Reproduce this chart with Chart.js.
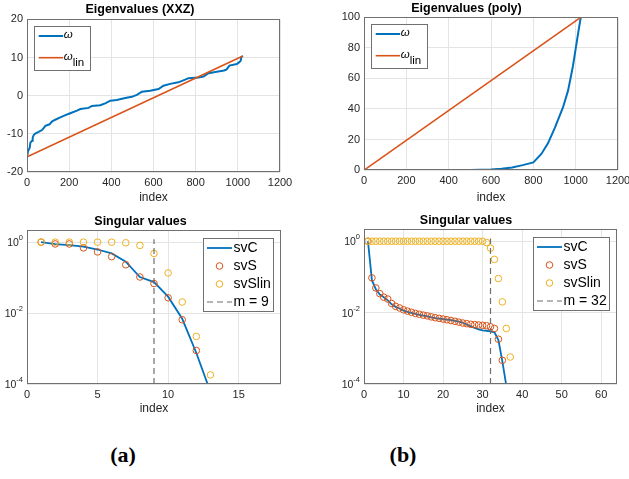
<!DOCTYPE html>
<html>
<head>
<meta charset="utf-8">
<script src="https://cdn.jsdelivr.net/npm/chart.js@4.4.1/dist/chart.umd.min.js"></script>
<style>
  body { margin:0; background:#fff; }
  #fig { position:relative; width:629px; height:479px; overflow:hidden; background:#fff; }
  canvas { position:absolute; }
  .tag { position:absolute; font:bold 22px "Liberation Serif", "Times New Roman", serif; line-height:22px; transform:translateX(-50%); }
</style>
</head>
<body>
<div id="fig">
  <canvas id="cA" width="315" height="210" style="left:0;top:0"></canvas>
  <canvas id="cB" width="314" height="210" style="left:315px;top:0"></canvas>
  <canvas id="cC" width="315" height="215" style="left:0;top:210px"></canvas>
  <canvas id="cD" width="314" height="215" style="left:315px;top:210px"></canvas>
  <div class="tag" style="left:123px;top:444px">(a)</div>
  <div class="tag" style="left:403px;top:444px">(b)</div>
</div>
<script>
// data

// (a) top: XXZ eigenvalues
const xxzIndex = [1, 5, 13, 16, 24, 27, 32, 39, 55, 71, 79, 87, 107, 118, 134, 158, 182, 205, 237, 253,
  292, 308, 347, 371, 395, 426, 466, 497, 521, 545, 584, 624, 647, 679, 718, 750, 766, 813, 837, 861,
  900, 935, 947, 960, 995, 1007, 1014, 1016, 1024];
const xxzOmega = [-15.8, -14.5, -13.6, -12.3, -11.8, -11.0, -10.3, -9.9, -9.5, -9.0, -8.5, -7.9, -7.5, -6.8, -6.3, -5.7, -5.1, -4.6, -3.9, -3.5,
  -3.2, -2.7, -2.5, -2.0, -1.3, -1.1, -0.6, -0.3, 0.2, 1.05, 1.3, 1.75, 2.6, 3.1, 3.5, 4.2, 4.6, 4.8, 5.0, 5.9,
  6.3, 6.6, 6.9, 7.9, 8.3, 8.8, 9.2, 10.1, 10.4];
const xxzLinIndex = [1, 1024];
const xxzLin = [-16, 10.4];

// (b) top: poly eigenvalues
const polyIndex = [1, 200, 400, 500, 600, 650, 700, 750, 800, 838, 869, 901, 940, 964, 987, 1011, 1024];
const polyOmega = [0, 0, 0.01, 0.06, 0.35, 0.8, 1.7, 3.2, 5, 10.5, 17.5, 27.5, 41, 52, 68, 89, 100];
const polyLinIndex = [1, 1024];
const polyLin = [0, 100];

// (a) bottom: singular values
const svIdxA = [1, 2, 3, 4, 5, 6, 7, 8, 9, 10, 11, 12, 13];
const svCA = [1.0, 0.88, 0.82, 0.75, 0.62, 0.48, 0.28, 0.104, 0.075, 0.029, 0.0069, 0.00075, 0.00006];
const svSA = [1.0, 0.89, 0.89, 0.69, 0.53, 0.39, 0.23, 0.104, 0.068, 0.027, 0.0065, 0.00088];
const svSlinA = [1.0, 1.0, 1.0, 1.0, 1.0, 1.0, 0.96, 0.81, 0.48, 0.135, 0.0205, 0.0022, 0.00018];
const mA = 9;

// (b) bottom: singular values
const svIdxB = [1, 2, 3, 4, 5, 6, 7, 8, 9, 10, 11, 12, 13, 14, 15, 16, 17, 18, 19, 20,
  21, 22, 23, 24, 25, 26, 27, 28, 29, 30, 31, 32, 33, 34, 35, 36, 37];
const svCB = [1.0, 0.081, 0.045, 0.032, 0.027, 0.022, 0.017, 0.0145, 0.013, 0.0114,
  0.0105, 0.0098, 0.0092, 0.0087, 0.0082, 0.0078, 0.0074, 0.0070, 0.0068, 0.0066,
  0.0064, 0.0062, 0.0059, 0.0056, 0.0052, 0.0046, 0.0041, 0.0037, 0.0034, 0.0032,
  0.0031, 0.0030, 0.0028, 0.0017, 0.00043, 0.00009, 0.00001];
const svSB = [1.0, 0.094, 0.049, 0.034, 0.027, 0.024, 0.018, 0.015, 0.0135, 0.012,
  0.011, 0.0102, 0.0095, 0.0090, 0.0085, 0.0081, 0.0076, 0.0072, 0.0069, 0.0066,
  0.0063, 0.0060, 0.0057, 0.0054, 0.0051, 0.0049, 0.0047, 0.0046, 0.0045, 0.0044,
  0.0043, 0.0040, 0.0036, 0.0018, 0.00046];
const svSlinB = [1.0, 1.0, 1.0, 1.0, 1.0, 1.0, 1.0, 1.0, 1.0, 1.0,
  1.0, 1.0, 1.0, 1.0, 1.0, 1.0, 1.0, 1.0, 1.0, 1.0,
  1.0, 1.0, 1.0, 1.0, 1.0, 1.0, 1.0, 1.0, 1.0, 1.0,
  0.92, 0.64, 0.31, 0.09, 0.02, 0.0036, 0.00057];
const mB = 32;
const mLineY = [1e-4, 1.2];

// ticks
const eigXTicks = [0, 200, 400, 600, 800, 1000, 1200];
const xxzYTicks = [-20, -10, 0, 10, 20];
const polyYTicks = [0, 20, 40, 60, 80, 100];
const svXTicksA = [0, 5, 10, 15];
const svXTicksB = [0, 10, 20, 30, 40, 50, 60];
const svYExp = [0, -2, -4];

// style
const FONT = '"Liberation Sans", Arial, sans-serif';
const BLUE = '#0072BD', ORANGE = '#D95319', YELLOW = '#EDB120', DASH = '#6e6e6e';
const GRID = '#e4e4e4', AXIS = '#707070', TICK = '#262626';

const pts = (xs, ys) => ys.map((y, i) => ({ x: xs[i], y }));

function lineSet(label, xs, ys, color, width, order, extra) {
  return Object.assign({ label, data: pts(xs, ys), borderColor: color, borderWidth: width,
    pointRadius: 0, tension: 0, fill: false, order }, extra || {});
}
function circleSet(label, xs, ys, color, order) {
  return { label, data: pts(xs, ys), showLine: false, borderColor: color, order,
    pointStyle: 'circle', pointRadius: 3.3, pointBorderWidth: 1,
    pointBorderColor: color, pointBackgroundColor: 'rgba(0,0,0,0)' };
}

// frame, log tick labels and boxed legend
const frameLegend = {
  id: 'frameLegend',
  afterDatasetsDraw(chart, args, o) {
    const { ctx, chartArea: a } = chart;
    ctx.save();
    ctx.strokeStyle = AXIS; ctx.lineWidth = 1;
    ctx.strokeRect(Math.round(a.left) + 0.5, Math.round(a.top) + 0.5,
      Math.round(a.right - a.left) - 1, Math.round(a.bottom - a.top) - 1);

    if (o.logExp) {
      const ys = chart.scales.y;
      o.logExp.forEach(e => {
        const y = ys.getPixelForValue(Math.pow(10, e));
        const ex = String(e);
        ctx.fillStyle = TICK;
        ctx.textBaseline = 'middle';
        ctx.textAlign = 'right';
        ctx.font = '7.5px ' + FONT;
        const right = a.left - 4;
        const ew = ctx.measureText(ex).width;
        ctx.fillText(ex, right, y - 4);
        ctx.font = '10.5px ' + FONT;
        ctx.fillText('10', right - ew, y + 1);
      });
    }

    // legend
    const items = chart.data.datasets;
    let tw = 0;
    items.forEach(d => {
      const [main, sub] = d.label.split('_');
      ctx.font = o.mainFont;
      let w = ctx.measureText(main).width;
      if (sub) { ctx.font = o.subFont; w += ctx.measureText(sub).width; }
      tw = Math.max(tw, w);
    });
    const w = Math.round(o.padL + o.sample + o.gap + tw + o.padR);
    const h = Math.round(o.padT + (items.length - 1) * o.rowH + o.padB);
    const x0 = Math.round(o.corner === 'tl' ? a.left + o.inset : a.right - o.inset - w);
    const y0 = Math.round(a.top + o.inset);
    ctx.fillStyle = '#fff';
    ctx.fillRect(x0, y0, w, h);
    ctx.strokeStyle = AXIS;
    ctx.strokeRect(x0 + 0.5, y0 + 0.5, w, h);
    ctx.textAlign = 'left';
    ctx.textBaseline = 'middle';
    items.forEach((d, i) => {
      const y = y0 + o.padT + i * o.rowH;
      const sx = x0 + o.padL;
      ctx.beginPath();
      if (d.showLine === false) {
        ctx.arc(sx + o.sample / 2, y, d.pointRadius, 0, 2 * Math.PI);
        ctx.strokeStyle = d.pointBorderColor; ctx.lineWidth = 1;
        ctx.stroke();
      } else {
        ctx.setLineDash(d.borderDash || []);
        ctx.moveTo(sx, y); ctx.lineTo(sx + o.sample, y);
        ctx.strokeStyle = d.borderColor; ctx.lineWidth = d.borderWidth;
        ctx.stroke();
        ctx.setLineDash([]);
      }
      const [main, sub] = d.label.split('_');
      let tx = sx + o.sample + o.gap;
      ctx.fillStyle = '#000';
      ctx.font = o.mainFont;
      ctx.fillText(main, tx, y + o.mainDy);
      if (sub) {
        tx += ctx.measureText(main).width;
        ctx.font = o.subFont;
        ctx.fillText(sub, tx, y + o.subDy);
      }
    });
    ctx.restore();
  }
};

const topLegend = { corner: 'tl', inset: 7, padL: 4.7, sample: 24.5, gap: 0.5, padR: 6, padT: 10, rowH: 21.7, padB: 12,
  mainFont: 'italic 11.5px ' + FONT, subFont: '11.5px ' + FONT, mainDy: -1, subDy: 5 };
const svLegend = { corner: 'tr', inset: 8, padL: 4, sample: 25, gap: 1.5, padR: 2.5, padT: 10, rowH: 18, padB: 9,
  mainFont: '14px ' + FONT, subFont: '14px ' + FONT, mainDy: 0.5, subDy: 5 };

function makeChart(id, c) {
  return new Chart(document.getElementById(id), {
    type: 'line',
    data: { datasets: c.datasets },
    options: {
      responsive: false, animation: false, devicePixelRatio: 1,
      layout: { padding: c.pad },
      plugins: {
        legend: { display: false },
        tooltip: { enabled: false },
        title: { display: true, text: c.title, color: '#000',
          font: { family: FONT, size: 12.5, weight: 'bold' }, padding: c.titlePad },
        frameLegend: Object.assign({ logExp: c.logExp }, c.legend)
      },
      scales: {
        x: {
          type: 'linear', min: c.xMin, max: c.xMax,
          afterBuildTicks: s => { s.ticks = c.xTicks.map(v => ({ value: v })); },
          afterFit: s => { s.height = c.xH; s.paddingLeft = 0; s.paddingRight = 0; },
          grid: { color: GRID, drawTicks: false },
          border: { display: false },
          ticks: { color: TICK, font: { family: FONT, size: 11 }, padding: 4, maxRotation: 0, autoSkip: false,
            callback: v => String(v) },
          title: { display: true, text: 'index', color: TICK, font: { family: FONT, size: 12 },
            padding: { top: 0, bottom: c.xTitlePad } }
        },
        y: {
          type: c.yType, min: c.yMin, max: c.yMax,
          afterBuildTicks: s => { s.ticks = c.yTicks.map(v => ({ value: v })); },
          afterFit: s => { s.width = c.yW; s.paddingTop = 0; s.paddingBottom = 0; },
          grid: { color: GRID, drawTicks: false },
          border: { display: false },
          ticks: { display: c.yType === 'linear', color: TICK, font: { family: FONT, size: 11 }, padding: 4,
            callback: v => String(v) }
        }
      }
    },
    plugins: [frameLegend]
  });
}

makeChart('cA', {
  title: 'Eigenvalues (XXZ)', titlePad: { top: 2, bottom: 2.4 },
  pad: { left: 0, right: 35, top: 0, bottom: 2 },
  xMin: 0, xMax: 1200, xTicks: eigXTicks, xH: 36, xTitlePad: 3,
  yType: 'linear', yMin: -20, yMax: 20, yTicks: xxzYTicks, yW: 27,
  legend: topLegend,
  datasets: [
    lineSet('ω', xxzIndex, xxzOmega, BLUE, 2, 1),
    lineSet('ω_lin', xxzLinIndex, xxzLin, ORANGE, 1.6, 0)
  ]
});

makeChart('cB', {
  title: 'Eigenvalues (poly)', titlePad: { top: 1, bottom: 1.4 },
  pad: { left: 0, right: 11, top: 0, bottom: 2 },
  xMin: 0, xMax: 1200, xTicks: eigXTicks, xH: 38, xTitlePad: 3,
  yType: 'linear', yMin: 0, yMax: 100, yTicks: polyYTicks, yW: 49,
  legend: topLegend,
  datasets: [
    lineSet('ω', polyIndex, polyOmega, BLUE, 2, 1),
    lineSet('ω_lin', polyLinIndex, polyLin, ORANGE, 1.6, 0)
  ]
});

makeChart('cC', {
  title: 'Singular values', titlePad: { top: 4, bottom: 1 },
  pad: { left: 0, right: 34, top: 0, bottom: 5 },
  xMin: 0, xMax: 18, xTicks: svXTicksA, xH: 36, xTitlePad: 3.8,
  yType: 'logarithmic', yMin: 1e-4, yMax: 2.2, yTicks: svYExp.map(e => Math.pow(10, e)), yW: 27,
  logExp: svYExp,
  legend: svLegend,
  datasets: [
    lineSet('svC', svIdxA, svCA, BLUE, 1.8, 3),
    circleSet('svS', svIdxA, svSA, ORANGE, 2),
    circleSet('svSlin', svIdxA, svSlinA, YELLOW, 1),
    lineSet('m = ' + mA, [mA, mA], mLineY, DASH, 1.2, 0, { borderDash: [6, 4] })
  ]
});

makeChart('cD', {
  title: 'Singular values', titlePad: { top: 3, bottom: 1 },
  pad: { left: 0, right: 12, top: 0, bottom: 5 },
  xMin: 0, xMax: 64, xTicks: svXTicksB, xH: 36, xTitlePad: 3.8,
  yType: 'logarithmic', yMin: 1e-4, yMax: 2.2, yTicks: svYExp.map(e => Math.pow(10, e)), yW: 49,
  logExp: svYExp,
  legend: svLegend,
  datasets: [
    lineSet('svC', svIdxB, svCB, BLUE, 1.8, 3),
    circleSet('svS', svIdxB, svSB, ORANGE, 2),
    circleSet('svSlin', svIdxB, svSlinB, YELLOW, 1),
    lineSet('m = ' + mB, [mB, mB], mLineY, DASH, 1.2, 0, { borderDash: [6, 4] })
  ]
});
</script>
</body>
</html>
